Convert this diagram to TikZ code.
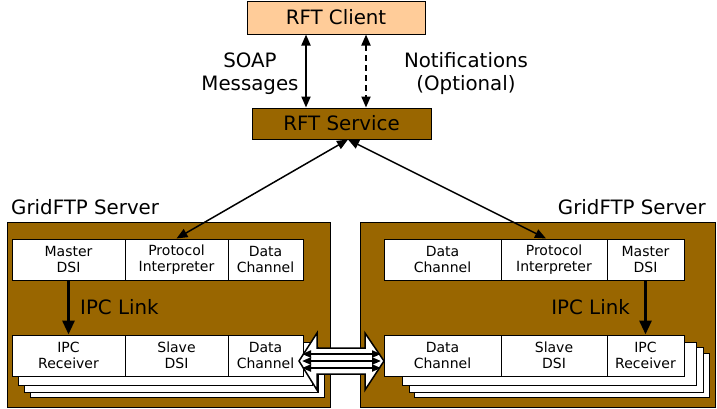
\documentclass[tikz,border=0pt]{standalone}
\usepackage{fontspec}
\setmainfont{DejaVu Sans}
\usetikzlibrary{arrows.meta}
\definecolor{brownfill}{HTML}{996600}
\definecolor{clientfill}{HTML}{FFCC99}
\tikzset{
  big/.style={font=\fontsize{19.8}{23}\selectfont},
  small/.style={font=\fontsize{14}{16}\selectfont},
  cell/.style={draw=black, line width=1pt, fill=white, minimum height=41pt, inner sep=0pt, align=center, small},
  shadowbox/.style={draw=black, line width=1pt, fill=white},
  serverbox/.style={draw=black, line width=1pt, fill=brownfill},
  msgarrow/.style={line width=2pt, {Triangle[length=11pt,width=9pt]}-{Triangle[length=11pt,width=9pt]}},
  diag/.style={line width=1.5pt, {Triangle[length=11pt,width=9pt]}-{Triangle[length=11pt,width=9pt]}},
  ipc/.style={line width=3pt, -{Triangle[length=14pt,width=12pt]}},
  inner/.style={line width=2pt, {Triangle[length=9pt,width=7pt]}-{Triangle[length=9pt,width=7pt]}},
}
\begin{document}
\begin{tikzpicture}[x=1pt,y=-1pt]
\useasboundingbox (0,0) rectangle (717,408);

% top
\node[draw=black, line width=1pt, fill=clientfill, minimum width=178pt, minimum height=33pt, inner sep=0pt, big] (client) at (336,17.5) {RFT Client};
\node[draw=black, line width=1pt, fill=brownfill, minimum width=179pt, minimum height=31pt, inner sep=0pt, big] (service) at (341.5,123.5) {RFT Service};
\draw[msgarrow] (client.south -| 306,0) -- (service.north -| 306,0);
\draw[msgarrow, dash pattern=on 6pt off 4pt] (client.south -| 366,0) -- (service.north -| 366,0);
\node[big, align=center, inner sep=0pt] (soap) at (250,73.5) {SOAP\\Messages};
\node[big, align=center, inner sep=0pt] (notif) at (466,73.5) {Notifications\\(Optional)};

% server boxes
\node[serverbox, minimum width=323pt, minimum height=185pt, inner sep=0pt] (lserver) at (168.5,314.5) {};
\node[serverbox, minimum width=355pt, minimum height=185pt, inner sep=0pt] (rserver) at (537.5,314.5) {};
\node[big, anchor=west, inner sep=0pt] (llabel) at (11,207) {GridFTP Server};
\node[big, anchor=east, inner sep=0pt] (rlabel) at (706,207) {GridFTP Server};

% left shadows
\draw[shadowbox] (30,353) rectangle (324,397);
\draw[shadowbox] (24,347) rectangle (318,392);
\draw[shadowbox] (18,342) rectangle (312,385);
% right shadows
\draw[shadowbox] (414,353) rectangle (709,397);
\draw[shadowbox] (409,347) rectangle (703,392);
\draw[shadowbox] (402,342) rectangle (696,385);

% left cells
\node[cell, minimum width=113pt] (lmaster) at (68.5,259.5) {Master\\DSI};
\node[cell, minimum width=103pt] (lpi) at (176.5,259.5) {Protocol\\Interpreter};
\node[cell, minimum width=75pt] (ldc) at (265.5,259.5) {Data\\Channel};
\node[cell, minimum width=113pt] (lrecv) at (68.5,355.5) {IPC\\Receiver};
\node[cell, minimum width=103pt] (lslave) at (176.5,355.5) {Slave\\DSI};
\node[cell, minimum width=75pt] (ldc2) at (265.5,355.5) {Data\\Channel};

% right cells
\node[cell, minimum width=117pt] (rdc) at (442.5,259.5) {Data\\Channel};
\node[cell, minimum width=106pt] (rpi) at (554,259.5) {Protocol\\Interpreter};
\node[cell, minimum width=77pt] (rmaster) at (645.5,259.5) {Master\\DSI};
\node[cell, minimum width=117pt] (rdc2) at (442.5,355.5) {Data\\Channel};
\node[cell, minimum width=106pt] (rslave) at (554,355.5) {Slave\\DSI};
\node[cell, minimum width=77pt] (rrecv) at (645.5,355.5) {IPC\\Receiver};

% IPC links
\draw[ipc] (lmaster.south) -- (lrecv.north);
\draw[ipc] (rmaster.south) -- (rrecv.north);
\node[big, anchor=west, inner sep=0pt] (lipc) at (80,307) {IPC Link};
\node[big, anchor=east, inner sep=0pt] (ripc) at (630,307) {IPC Link};

% service to PI
\draw[diag] ([xshift=6.5pt]service.south) -- (lpi.north);
\draw[diag] ([xshift=6.5pt]service.south) -- ([xshift=-8pt]rpi.north);

% big double arrow between data channels
\draw[line width=1.5pt, fill=white, line join=miter] (299,361) -- (317,333) -- (317,348) -- (365,348) -- (365,333) -- (384,361) -- (365,390) -- (365,374) -- (317,374) -- (317,390) -- cycle;
\coordinate (la1) at (302,354);
\coordinate (la2) at (302,361);
\coordinate (la3) at (302,368);
\coordinate (ra1) at (381,354);
\coordinate (ra2) at (381,361);
\coordinate (ra3) at (381,368);
\draw[inner] (la1) -- (ra1);
\draw[inner] (la2) -- (ra2);
\draw[inner] (la3) -- (ra3);
\end{tikzpicture}
\end{document}
